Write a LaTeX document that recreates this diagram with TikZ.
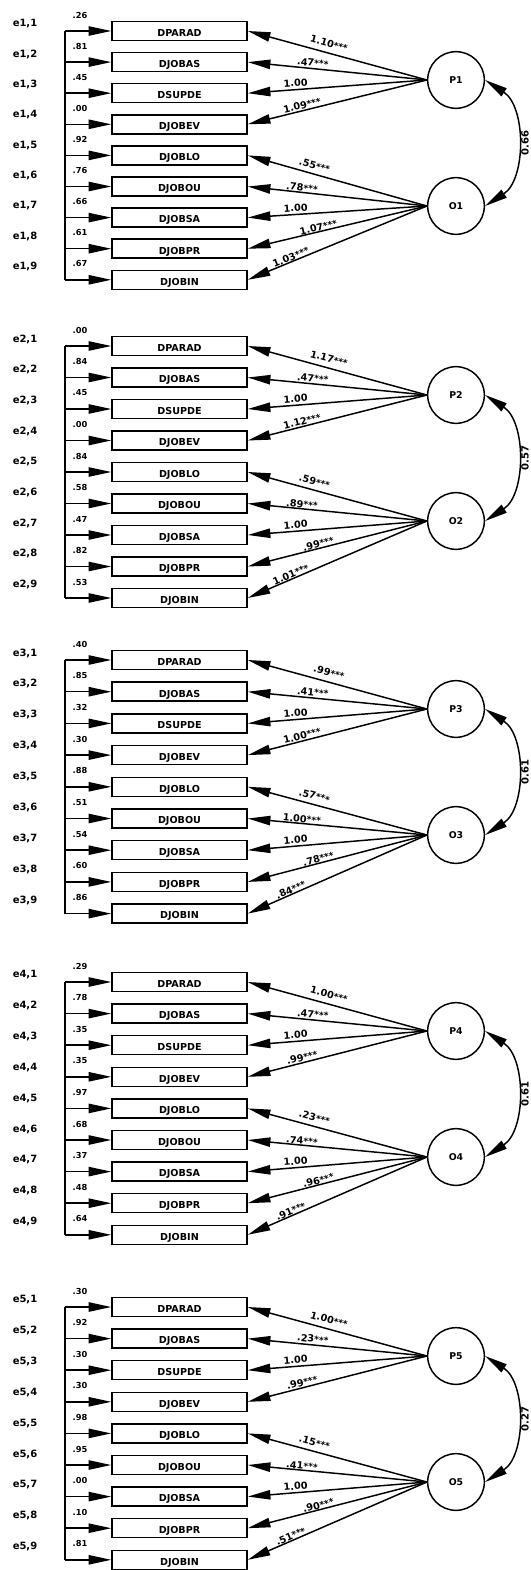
\documentclass[tikz,border=0pt]{standalone}
\usepackage{fontspec}
\setmainfont{DejaVu Sans}
\usetikzlibrary{arrows.meta}

% significance marks after an estimate
\newcommand\stars{{\fontsize{6.8}{7}\selectfont***}}

\tikzset{
  conn/.style={line width=1.1pt},
  arr/.style={conn, -{Triangle[length=17pt,width=7pt]}},
  darr/.style={conn, {Triangle[length=17pt,width=7pt]}-{Triangle[length=17pt,width=7pt]}},
  obs/.style={draw, line width=1.1pt, minimum width=101.25pt, minimum height=14.25pt,
    inner sep=0pt, text height=9pt, text depth=1pt, font=\bfseries\fontsize{7.2}{8}\selectfont},
  lat/.style={draw, circle, line width=1.1pt, minimum size=42.5pt, inner sep=0pt,
    font=\bfseries\fontsize{7}{8}\selectfont},
  errlbl/.style={font=\bfseries\fontsize{7.5}{8}\selectfont, inner sep=0pt},
  vallbl/.style={font=\bfseries\fontsize{6.2}{7}\selectfont, inner sep=0pt},
  ldg/.style={sloped, font=\bfseries\fontsize{7.3}{8}\selectfont, inner sep=0.5pt},
  corrlbl/.style={rotate=90, font=\bfseries\fontsize{7.5}{8}\selectfont, inner sep=0pt},
}

% one measurement model: #1 group, #2 y of first indicator, #3 spacing,
% #4 error values, #5 P loadings, #6 O loadings, #7 correlation
\newcommand\sempanel[7]{%
  \foreach \nm [count=\i] in {DPARAD,DJOBAS,DSUPDE,DJOBEV,DJOBLO,DJOBOU,DJOBSA,DJOBPR,DJOBIN}{
    \pgfmathsetmacro\yy{-(#2+(\i-1)*#3)}
    \node[obs] (b#1-\i) at (179.5,\yy) {\nm};
    \coordinate (v#1-\i) at (65,\yy);
    \draw[arr] (v#1-\i) -- (b#1-\i);
    \node[errlbl] (e#1-\i) at (25,{\yy+7+(\i-1)*0.8}) {e#1,\i};
  }
  \draw[conn] (v#1-1) -- (v#1-9);
  \foreach \ev [count=\i] in {#4}{
    \node[vallbl] (w#1-\i) at (80,{-(#2+(\i-1)*#3)+16}) {\ev};
  }
  \node[lat] (P#1) at (456,{-(#2+49)}) {P#1};
  \node[lat] (O#1) at (456,{-(#2+175)}) {O#1};
  \foreach \ld [count=\i] in {#5}{
    \pgfmathsetmacro\lpos{{0.44,0.36,0.27,0.31}[\i-1]}
    \pgfmathsetmacro\lsh{{3.5,1,1.5,0.5}[\i-1]}
    \draw[arr] (P#1.west) -- (b#1-\i.east);
    \path (b#1-\i.east) -- (P#1.west) node[ldg, above=\lsh pt, pos=\lpos] (lp#1-\i) {\ld};
  }
  \foreach \ld [count=\j] in {#6}{
    \pgfmathtruncatemacro\i{\j+4}
    \pgfmathsetmacro\lpos{{0.36,0.30,0.27,0.40,0.25}[\j-1]}
    \pgfmathsetmacro\lsh{{3,0,1.5,0,0}[\j-1]}
    \draw[arr] (O#1.west) -- (b#1-\i.east);
    \path (b#1-\i.east) -- (O#1.west) node[ldg, above=\lsh pt, pos=\lpos] (lo#1-\j) {\ld};
  }
  \draw[darr] (P#1.east) to[bend left=57] (O#1.east);
  \node[corrlbl] (r#1) at (525,{-(#2+112)}) {#7};
}

\begin{document}
\begin{tikzpicture}[x=0.75pt,y=0.75pt]
\fill[white] (0,0) rectangle (531,-1570);
\useasboundingbox (0,0) rectangle (531,-1570);

\sempanel{1}{31}{31.1}{.26,.81,.45,.00,.92,.76,.66,.61,.67}
  {1.10\stars,.47\stars,1.00,1.09\stars}
  {.55\stars,.78\stars,1.00,1.07\stars,1.03\stars}{0.66}

\sempanel{2}{346}{31.5}{.00,.84,.45,.00,.84,.58,.47,.82,.53}
  {1.17\stars,.47\stars,1.00,1.12\stars}
  {.59\stars,.89\stars,1.00,.99\stars,1.01\stars}{0.57}

\sempanel{3}{660}{31.7}{.40,.85,.32,.30,.88,.51,.54,.60,.86}
  {.99\stars,.41\stars,1.00,1.00\stars}
  {.57\stars,1.00\stars,1.00,.78\stars,.84\stars}{0.61}

\sempanel{4}{982}{31.6}{.29,.78,.35,.35,.97,.68,.37,.48,.64}
  {1.00\stars,.47\stars,1.00,.99\stars}
  {.23\stars,.74\stars,1.00,.96\stars,.91\stars}{0.61}

\sempanel{5}{1307}{31.6}{.30,.92,.30,.30,.98,.95,.00,.10,.81}
  {1.00\stars,.23\stars,1.00,.99\stars}
  {.15\stars,.41\stars,1.00,.90\stars,.51\stars}{0.27}
\end{tikzpicture}
\end{document}
